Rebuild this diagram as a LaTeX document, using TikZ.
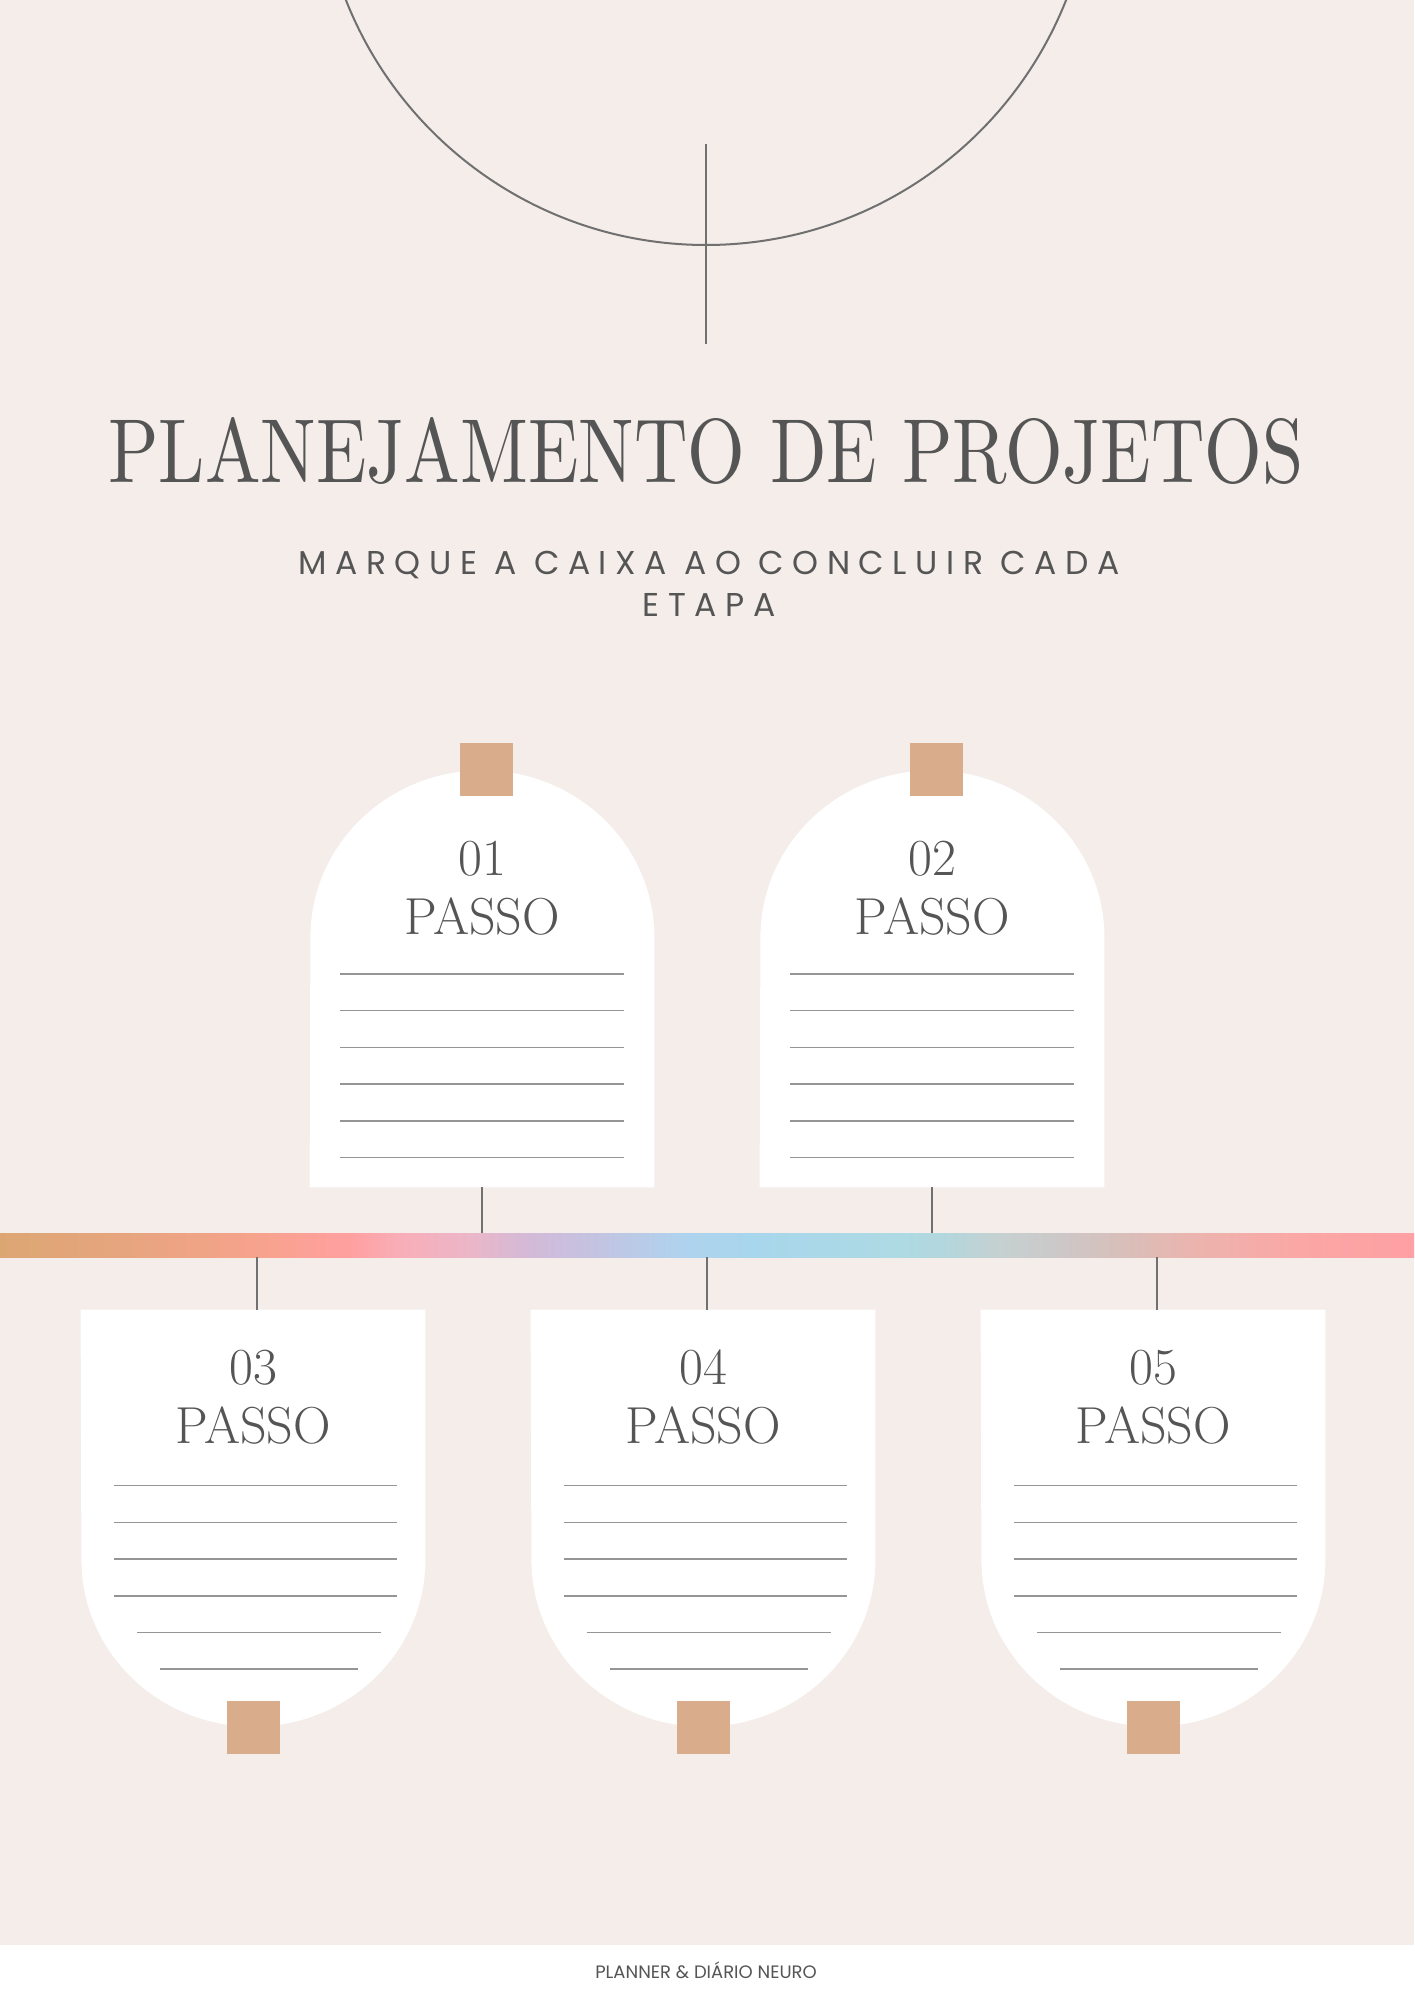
\documentclass[tikz,border=0pt]{standalone}
\usepackage{fontspec}
\usepackage{graphicx}
\usetikzlibrary{calc}
\usetikzlibrary{positioning}
\newfontfamily\subfont[LetterSpace=26]{Poppins}
\newfontfamily\footfont{Poppins}
\definecolor{paper}{HTML}{F4EDEA}
\definecolor{tape}{HTML}{D9AD8B}
\definecolor{ink}{HTML}{555555}
\definecolor{rulegray}{HTML}{959595}
\definecolor{wire}{HTML}{707070}
\pgfdeclarehorizontalshading{rainbow}{100bp}{rgb(0bp)=(.863,.651,.451); rgb(25bp)=(.863,.651,.451);
  rgb(29.24bp)=(.902,.647,.494); rgb(33.49bp)=(.957,.639,.541); rgb(35.61bp)=(.988,.631,.584);
  rgb(37.38bp)=(1,.627,.627); rgb(39.14bp)=(.973,.682,.722); rgb(41.62bp)=(.922,.714,.784);
  rgb(43.74bp)=(.824,.729,.847); rgb(46.22bp)=(.761,.769,.886); rgb(49.05bp)=(.690,.824,.933);
  rgb(51.52bp)=(.659,.839,.925); rgb(56.82bp)=(.682,.855,.894); rgb(58.59bp)=(.706,.839,.863);
  rgb(60.36bp)=(.776,.816,.816); rgb(62.48bp)=(.8,.784,.784); rgb(64.60bp)=(.847,.749,.729);
  rgb(67.43bp)=(.929,.702,.682); rgb(70.97bp)=(.984,.655,.647); rgb(75bp)=(.996,.627,.643);
  rgb(100bp)=(.996,.627,.643)}

\begin{document}
\begin{tikzpicture}[x=0.5pt,y=-0.5pt,
		card/.style={rectangle,inner sep=0pt,minimum width=172pt,minimum height=208.5pt},
		tag/.style={rectangle,fill=tape,inner sep=0pt,minimum size=26.5pt},
		num/.style={anchor=base,inner sep=0pt,text=ink,font=\fontsize{26}{30}\selectfont},
		writeline/.style={draw=rulegray,line width=0.8pt},
		stem/.style={draw=wire,line width=0.7pt},
		arcline/.style={draw=wire,line width=1pt},
		bar/.style={rectangle,inner sep=0pt,minimum width=707pt,minimum height=12pt,shade,shading=rainbow}]
		\useasboundingbox (0,0) rectangle (1414,2000);
		\fill[paper] (0,0) rectangle (1414,1945);
		\fill[white] (0,1945) rectangle (1414,2000);
		
		% moon and stick
		\begin{scope}
		\clip (0,0) rectangle (1414,1945);
		\draw[arcline] (706,-142) circle [radius=387];
		\end{scope}
		\draw[arcline] (706,144) -- (706,344);
		
		\node[anchor=base,inner sep=0pt,text=ink] (title) at (706,482)
			{\resizebox{597.5pt}{32.5pt}{PLANEJAMENTO DE PROJETOS}};
		\node[anchor=base,inner sep=0pt,text=ink,font=\subfont\fontsize{16.5}{20}\selectfont] (sub1) at (709,574)
			{MARQUE A CAIXA AO CONCLUIR CADA};
		\node[anchor=base,inner sep=0pt,text=ink,font=\subfont\fontsize{16.5}{20}\selectfont] (sub2) at (709,616) {ETAPA};
		
		\node[bar] (bar) at (707,1245) {};
		
		\node[card] (c1) at (482,978.5) {};
		\node[card] (c2) at (932,978.5) {};
		\node[card] (c3) at (253,1518.5) {};
		\node[card] (c4) at (703,1518.5) {};
		\node[card] (c5) at (1153,1518.5) {};
		
		\foreach \c in {c1,c2}
			\fill[white] (\c.south west) -- (\c.south east) -- ++(0,-250)
				arc[start angle=0,end angle=-180,x radius=172,y radius=167] -- cycle;
		\foreach \c in {c3,c4,c5}
			\fill[white] (\c.north west) -- (\c.north east) -- ++(0,250)
				arc[start angle=0,end angle=180,x radius=172,y radius=167] -- cycle;
		
		\node[tag] (t1) at ([xshift=2pt]c1.north) {};
		\node[tag] (t2) at ([xshift=2pt]c2.north) {};
		\node[tag] (t3) at (c3.south) {};
		\node[tag] (t4) at (c4.south) {};
		\node[tag] (t5) at (c5.south) {};
		
		\node[num] (n1) at ($(c1.north)+(0,106)$) {01};
		\node[num] (p1) at ($(c1.north)+(0,165)$) {PASSO};
		\node[num] (n2) at ($(c2.north)+(0,106)$) {02};
		\node[num] (p2) at ($(c2.north)+(0,165)$) {PASSO};
		\node[num] (n3) at ($(c3.north)+(0,75)$) {03};
		\node[num] (p3) at ($(c3.north)+(0,134)$) {PASSO};
		\node[num] (n4) at ($(c4.north)+(0,75)$) {04};
		\node[num] (p4) at ($(c4.north)+(0,134)$) {PASSO};
		\node[num] (n5) at ($(c5.north)+(0,75)$) {05};
		\node[num] (p5) at ($(c5.north)+(0,134)$) {PASSO};
		
		% lines to write on
		\foreach \c in {c1,c2}
			\foreach \k in {0,...,5}
				\draw[writeline] ($(\c.north)+(-142,204.3+36.7*\k)$) -- ++(284,0);
		\foreach \c in {c3,c4,c5}
			\foreach \k/\a/\b in {0/-139/283,1/-139/283,2/-139/283,3/-139/283,4/-116/244,5/-93/198}
				\draw[writeline] ($(\c.north)+(\a,176+36.7*\k)$) -- ++(\b,0);
		
		\draw[stem] (c1.south) -- (c1.south |- bar.north);
		\draw[stem] (c2.south) -- (c2.south |- bar.north);
		\draw[stem] ([xshift=2pt]c3.north) -- ([xshift=2pt]c3.north |- bar.south);
		\draw[stem] ([xshift=2pt]c4.north) -- ([xshift=2pt]c4.north |- bar.south);
		\draw[stem] ([xshift=2pt]c5.north) -- ([xshift=2pt]c5.north |- bar.south);
		
		\node[anchor=base,inner sep=0pt,text=ink,font=\footfont\fontsize{9}{11}\selectfont] (foot) at (706,1978)
			{PLANNER \& DIÁRIO NEURO};
		\end{tikzpicture}
\end{document}
